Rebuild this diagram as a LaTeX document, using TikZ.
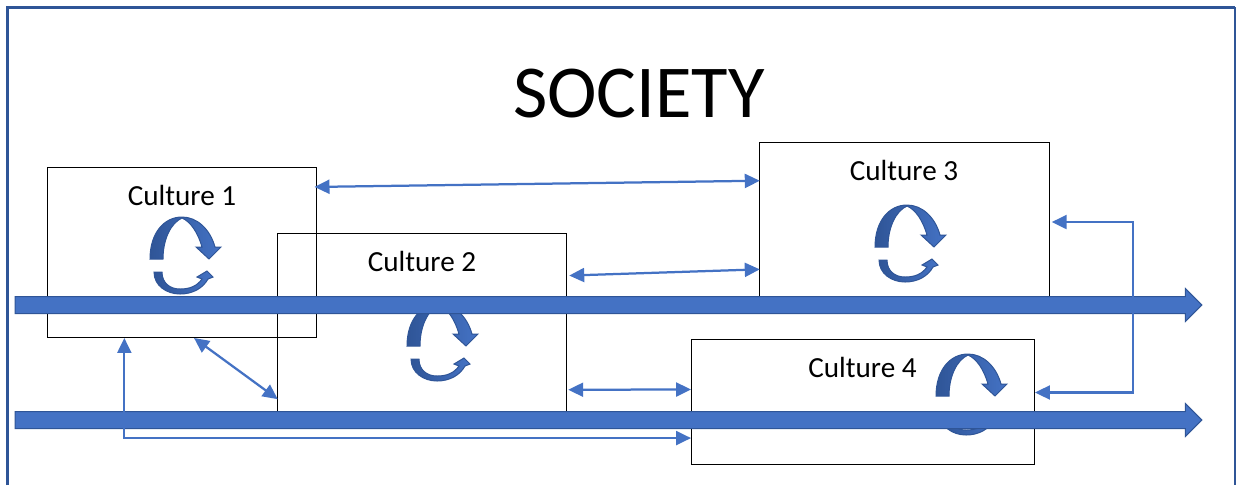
\documentclass[tikz,border=0pt]{standalone}
\usepackage{fontspec}
\setmainfont{Carlito}
\usepackage{tikz}
\usetikzlibrary{arrows.meta, shapes.arrows}
\definecolor{flowblue}{HTML}{4472C4}
\definecolor{edgeblue}{HTML}{2F5597}
\tikzset{
    culture/.style = {rectangle, draw = black, line width = 0.02cm, inner sep = 0, outer sep = 0},
    title/.style = {font = \fontsize{42.5}{50}\selectfont, text = black},
    label/.style = {font = \fontsize{16.6}{20}\selectfont, text = black},
    flow/.style = {single arrow, draw = edgeblue, fill = flowblue, line width = 0.02cm, inner sep = 0, inner ysep = 0.16cm,
        single arrow head extend = 0.16cm, minimum width = 0.64cm, minimum height = 23.74cm, outer sep = 0},
    link/.style = {draw = flowblue, line width = 0.045cm, {Triangle[length = 0.3cm, width = 0.28cm]}-{Triangle[length = 0.3cm, width = 0.28cm]}},
    swirl/.style = {draw = edgeblue, line width = 0.02cm, left color = edgeblue, right color = flowblue},
    swirl top/.pic = {
        \path [swirl] (0,0) .. controls (0,-26) and (14,-42) .. (32,-42) .. controls (47,-42) and (60,-30) .. (65,-12)
            -- (71,-12) -- (59,0) -- (46,-12) -- (52,-12) .. controls (48,-26) and (41,-37) .. (32,-41)
            .. controls (21,-36) and (13,-20) .. (13,0) -- cycle;
    },
    swirl bottom/.pic = {
        \path [swirl] (4,13) .. controls (4,27) and (17,35) .. (30,35) .. controls (43,35) and (53,29) .. (58,20)
            -- (63,18) -- (57,12) -- (47,18) -- (52,20) .. controls (47,27) and (40,30) .. (30,30)
            .. controls (20,30) and (12,24) .. (12,13) -- cycle;
    }
}

\begin{document}
\begin{tikzpicture}[x = 0.02cm, y = -0.02cm]
        \useasboundingbox (0,0) rectangle (1236,485);
        \draw [edgeblue, line width = 0.055cm] (7.3,485) -- (7.3,7.2) -- (1235,7.2);
        \draw [edgeblue, line width = 0.025cm] (1235,7.2) -- (1235,485);
        \node [title] (society) at (639,94) {SOCIETY};
        \node [culture, minimum width = 5.38cm, minimum height = 3.42cm] (c1) at (182,252.5) {};
        \node [culture, minimum width = 5.77cm, minimum height = 3.58cm] (c2) at (422,322.5) {};
        \node [culture, minimum width = 5.79cm, minimum height = 3.10cm] (c3) at (904.5,219.5) {};
        \node [culture, minimum width = 6.88cm, minimum height = 2.50cm] (c4) at (863,401.5) {};
        \node [label] (l1) at (182,195) {Culture 1};
        \node [label] (l2) at (422,261) {Culture 2};
        \node [label] (l3) at (904,170) {Culture 3};
        \node [label] (l4) at (862.5,367) {Culture 4};
        \pic at (150,259) {swirl top};
        \pic at (150,259) {swirl bottom};
        \pic at (407,346) {swirl top};
        \pic at (407,346) {swirl bottom};
        \pic at (875,247) {swirl top};
        \pic at (875,247) {swirl bottom};
        \pic at (936,396) {swirl top};
        \pic at (936,400) {swirl bottom};
        \node [flow, anchor = west] (flow1) at (15,305) {};
        \node [flow, anchor = west] (flow2) at (15,420) {};
        \coordinate (rail) at (1133,300);
        \draw [link, shorten <= -0.04cm] (c1.26) -- (c3.165);
        \draw [link, shorten <= 0.06cm] (c2.18) -- (c3.199);
        \draw [link] (c1.-82) -- (c2.208);
        \draw [link, shorten <= 0.04cm] (c2.-25) -- (c4.176.5);
        \draw [link, shorten <= 0.05cm] (c3.-1) -| (rail) |- (c4.3);
        \draw [link] (c1.236) |- (c4.192);
    \end{tikzpicture}
\end{document}
